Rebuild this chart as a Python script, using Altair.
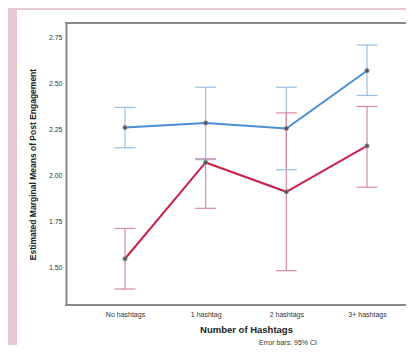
import altair as alt
import pandas as pd

categories = ["No hashtags", "1 hashtag", "2 hashtags", "3+ hashtags"]
series_names = ["Group A", "Group B"]
blue_mean = [2.26, 2.285, 2.255, 2.57]
blue_lo = [2.15, 2.085, 2.03, 2.435]
blue_hi = [2.37, 2.48, 2.48, 2.71]
red_mean = [1.545, 2.07, 1.91, 2.16]
red_lo = [1.38, 1.82, 1.48, 1.935]
red_hi = [1.71, 2.09, 2.34, 2.375]
y_ticks = [1.50, 1.75, 2.00, 2.25, 2.50, 2.75]

line_colors = ["#4a8fd6", "#c8224b"]
err_colors = ["#8fb7de", "#d27e9c"]

rows = []
for name, m, lo, hi in [(series_names[0], blue_mean, blue_lo, blue_hi),
                        (series_names[1], red_mean, red_lo, red_hi)]:
    for c, a, b, d in zip(categories, m, lo, hi):
        rows.append({"cat": c, "series": name, "mean": a, "lo": b, "hi": d})
df = pd.DataFrame(rows)

W, H = 340, 282
PL, PT, PR, PB = 58, 15, 0, 40
FONT = "Liberation Sans"
FRAME = "#8a8a8a"

x_enc = alt.X("cat:N", sort=categories,
              scale=alt.Scale(type="point", range=[59, 301], padding=0),
              axis=alt.Axis(title="Number of Hashtags", labelAngle=0, ticks=False, tickSize=0,
                            labelFontSize=7, labelColor="#333", labelPadding=5,
                            titleFontSize=9.5, titleFontWeight="bold", titleColor="#222",
                            titlePadding=7, titleX=180, domain=False,
                            zindex=1, labelFont=FONT, titleFont=FONT))
y_scale = alt.Scale(domain=[1.293, 2.83], nice=False, zero=False)

err_scale = alt.Scale(domain=series_names, range=err_colors)
line_scale = alt.Scale(domain=series_names, range=line_colors)

one = pd.DataFrame({"a": [0]})
panel = alt.Chart(one).mark_rect(color="white").encode(
    x=alt.value(-49), x2=alt.value(W + PR), y=alt.value(-13), y2=alt.value(H + PB))

top_line = alt.Chart(one).mark_rule(color=FRAME, strokeWidth=2).encode(
    x=alt.value(-1), x2=alt.value(W + PR), y=alt.value(0))
bottom_line = alt.Chart(one).mark_rule(color=FRAME, strokeWidth=2).encode(
    x=alt.value(-1), x2=alt.value(W + PR), y=alt.value(H))

base = alt.Chart(df)

rules = base.mark_rule(strokeWidth=1.2, opacity=0.9).encode(
    x=x_enc,
    y=alt.Y("lo:Q", scale=y_scale,
            axis=alt.Axis(title="Estimated Marginal Means of Post Engagement", values=y_ticks,
                          format=".2f", ticks=False, tickSize=0, labelFontSize=7,
                          labelColor="#333", labelPadding=4, titleFontSize=8.5,
                          titleFontWeight="bold", titleColor="#222", titlePadding=11,
                          domainColor=FRAME, domainWidth=2, zindex=1,
                          labelFont=FONT, titleFont=FONT, grid=False)),
    y2="hi:Q",
    color=alt.Color("series:N", scale=err_scale, legend=None))

caps_lo = base.mark_tick(size=21, thickness=1.2, opacity=0.9).encode(
    x=alt.X("cat:N", sort=categories), y=alt.Y("lo:Q", scale=y_scale),
    color=alt.Color("series:N", scale=err_scale, legend=None))
caps_hi = base.mark_tick(size=21, thickness=1.2, opacity=0.9).encode(
    x=alt.X("cat:N", sort=categories), y=alt.Y("hi:Q", scale=y_scale),
    color=alt.Color("series:N", scale=err_scale, legend=None))

lines = base.mark_line(strokeWidth=2).encode(
    x=alt.X("cat:N", sort=categories), y=alt.Y("mean:Q", scale=y_scale),
    color=alt.Color("series:N", scale=line_scale, legend=None),
    detail="series:N")

points = base.mark_point(shape="circle", size=18, filled=True, color="#555",
                         stroke=FRAME, strokeWidth=0.8, opacity=1).encode(
    x=alt.X("cat:N", sort=categories), y=alt.Y("mean:Q", scale=y_scale),
    detail="series:N")

note = alt.Chart(pd.DataFrame({"t": ["Error bars: 95% CI"]})).mark_text(
    fontSize=7, font=FONT, color="#333", align="center", baseline="middle").encode(
    text="t:N", x=alt.value(222), y=alt.value(320))

chart = alt.layer(panel, top_line, bottom_line, rules, caps_lo, caps_hi, lines, points, note
                  ).resolve_scale(color="independent").properties(
    width=W, height=H,
    autosize=alt.AutoSizeParams(type="none"),
    padding={"left": PL, "top": PT, "right": PR, "bottom": PB},
).configure(background="#e8cbd1").configure_view(stroke=None)

chart.save("out.html", embed_options={"renderer": "svg", "actions": False})
